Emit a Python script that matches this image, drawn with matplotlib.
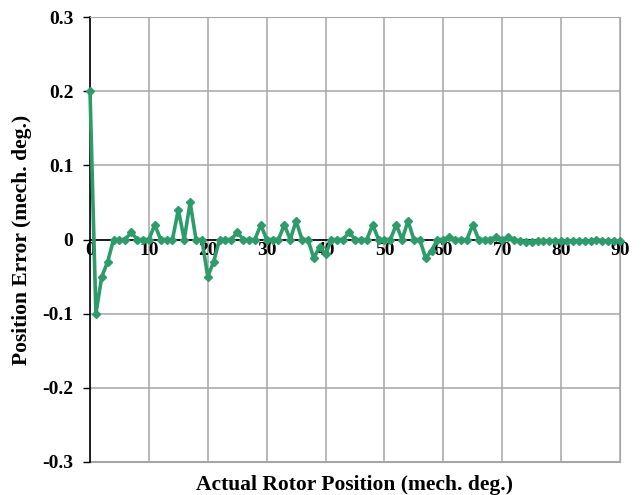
import matplotlib
matplotlib.use("Agg")
import matplotlib.pyplot as plt

# Data
positions = list(range(0, 91))
errors = [
    0.2, -0.1, -0.05, -0.03, 0.0, 0.0, 0.0, 0.01, 0.0, 0.0,
    0.0, 0.02, 0.0, 0.0, 0.0, 0.04, 0.0, 0.05, 0.0, 0.0,
    -0.05, -0.03, 0.0, 0.0, 0.0, 0.01, 0.0, 0.0, 0.0, 0.02,
    0.0, 0.0, 0.0, 0.02, 0.0, 0.025, 0.0, 0.0, -0.025, -0.01,
    -0.02, 0.0, 0.0, 0.0, 0.01, 0.0, 0.0, 0.0, 0.02, 0.0,
    0.0, 0.0, 0.02, 0.0, 0.025, 0.0, 0.0, -0.025, -0.015, 0.0,
    0.0, 0.003, 0.0, 0.0, 0.0, 0.02, 0.0, 0.0, 0.0, 0.003,
    0.0, 0.003, 0.0, -0.002, -0.003, -0.003, -0.002, -0.002, -0.002, -0.002,
    -0.002, -0.002, -0.002, -0.002, -0.002, -0.002, 0.0, -0.002, -0.002, -0.002,
    -0.002,
]
x_ticks = [0, 10, 20, 30, 40, 50, 60, 70, 80, 90]
y_ticks = [-0.3, -0.2, -0.1, 0.0, 0.1, 0.2, 0.3]
y_tick_labels = ["-0.3", "-0.2", "-0.1", "0", "0.1", "0.2", "0.3"]

plt.rcParams['font.family'] = ['Liberation Serif', 'DejaVu Serif']

fig = plt.figure(figsize=(6.41, 4.95), dpi=100)
ax = fig.add_axes([90/641, 1-462/495, (620-90)/641, (462-17)/495])

grid_c = '#a6a6a6'
ax.set_xlim(0, 90)
ax.set_ylim(-0.3, 0.3)
ax.set_xticks(x_ticks)
ax.set_yticks(y_ticks)
ax.set_yticklabels(y_tick_labels)
ax.grid(True, color=grid_c, linewidth=1.1)
ax.set_axisbelow(True)

ax.spines['bottom'].set_position(('data', 0))
ax.spines['bottom'].set_color('black')
ax.spines['bottom'].set_linewidth(1.2)
ax.spines['left'].set_color('black')
ax.spines['left'].set_linewidth(1.2)
ax.spines['top'].set_color(grid_c)
ax.spines['right'].set_color(grid_c)
ax.axhline(-0.3, color=grid_c, linewidth=1.5, zorder=0.5, clip_on=False)

ax.tick_params(axis='y', length=5, width=1, pad=7, labelsize=14)
ax.tick_params(axis='x', length=0, pad=2, labelsize=14)
for lab in ax.get_xticklabels() + ax.get_yticklabels():
    lab.set_fontweight('bold')

ax.plot(positions, errors, color='#2e9c6a', linewidth=2.6, marker='D',
        markersize=4.5, zorder=3, clip_on=False)

fig.text(355/641, 1-485/495, 'Actual Rotor Position (mech. deg.)',
         ha='center', va='center', fontsize=15.5, fontweight='bold')
fig.text(22/641, 1-240/495, 'Position Error (mech. deg.)',
         ha='center', va='center', rotation=90, fontsize=15.5, fontweight='bold')

fig.savefig('out.png', dpi=100)
